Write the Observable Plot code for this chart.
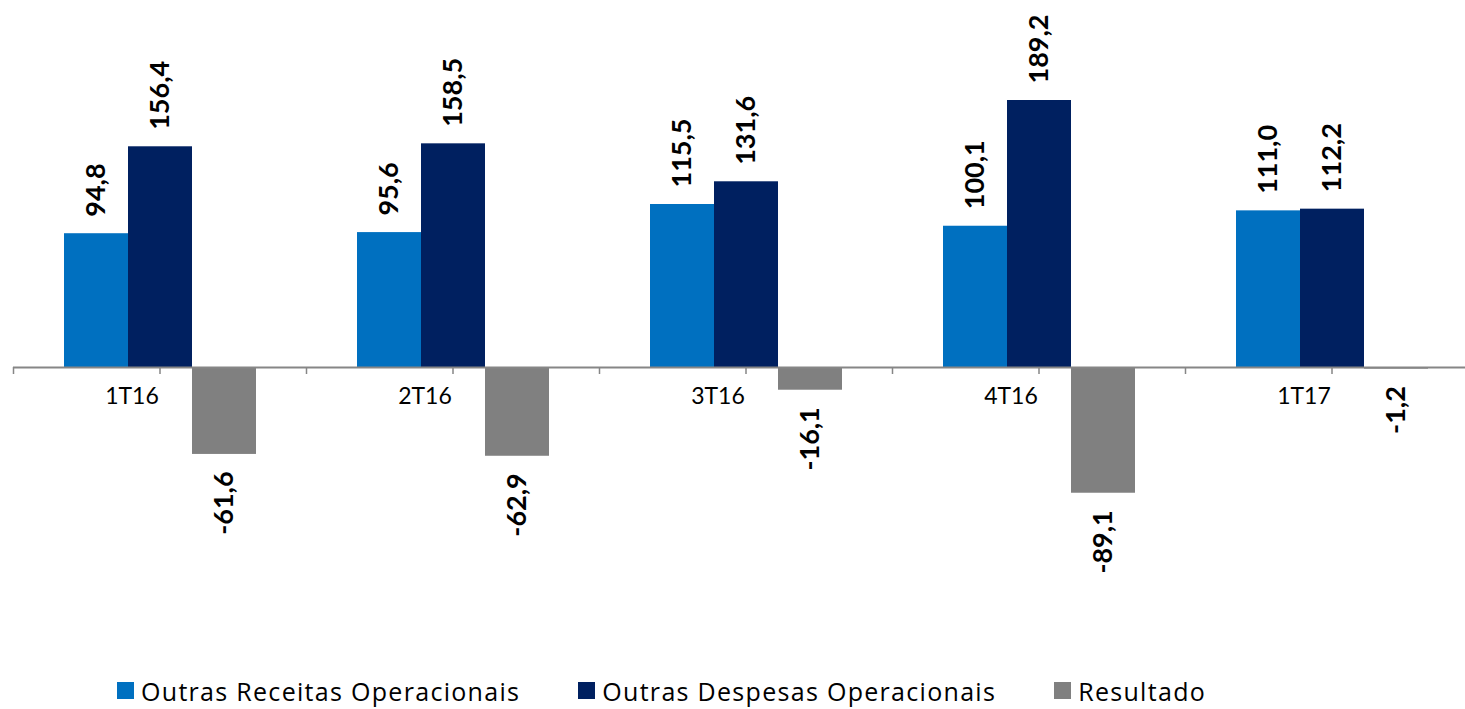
<!DOCTYPE html>
<html><head><meta charset="utf-8">
<script src="https://cdn.jsdelivr.net/npm/d3@7"></script>
<script src="https://cdn.jsdelivr.net/npm/@observablehq/plot@0.6"></script>
<style>
body{margin:0;background:#fff;overflow:hidden;font-family:Lato,sans-serif}
#chart svg{display:block}
#legend{display:flex;align-items:center;padding-left:117px;height:37px;font-size:25px;letter-spacing:1.3px;font-family:"Open Sans",sans-serif;color:#000}
.item{display:flex;align-items:center;margin-right:58px}
.sw{width:17px;height:17px;margin-right:7px}
</style></head><body>
<div id="chart"></div><div id="legend"></div>
<script>
const quarters = ["1T16","2T16","3T16","4T16","1T17"];
const series = ["Outras Receitas Operacionais","Outras Despesas Operacionais","Resultado"];
const receitas = [94.8,95.6,115.5,100.1,111.0];
const despesas = [156.4,158.5,131.6,189.2,112.2];
const resultado = [-61.6,-62.9,-16.1,-89.1,-1.2];
const colors = ["#0070C0","#002060","#808080"];

const data = [];
quarters.forEach((q,i)=>{
  [receitas,despesas,resultado].forEach((arr,j)=>data.push({quarter:q, series:series[j], value:arr[i]}));
});
const fmt = v => v.toFixed(1).replace(".", ",");
const W = 1465, H = 672, mL = 13, mR = -13;
const half = (W - mL - mR)/quarters.length/2;

const chart = Plot.plot({
  width: W, height: H, marginTop: 100, marginBottom: 305, marginLeft: mL, marginRight: mR,
  style: {fontFamily: "Lato, sans-serif", background: "#fff", overflow: "visible"},
  fx: {domain: quarters, padding: 0, axis: null},
  x: {domain: series, paddingInner: 0, paddingOuter: 0.754, axis: null},
  y: {domain: [0, d3.max(data, d => d.value)], axis: null},
  color: {domain: series, range: colors},
  marks: [
    Plot.barY(data, {fx: "quarter", x: "series", y: "value", fill: "series"}),
    Plot.ruleY([0], {stroke: "#868686", strokeWidth: 2}),
    Plot.axisFx({anchor: "bottom", tickSize: 7, tickFormat: () => "", stroke: "#868686", strokeWidth: 1.5, label: null}),
    Plot.axisFx({anchor: "bottom", tickSize: 7, tickFormat: () => "", stroke: "#868686", strokeWidth: 1.5, label: null, dx: -half}),
    Plot.text(quarters, {fx: d => d, text: d => d, frameAnchor: "bottom", dy: 36, dx: -28, fontSize: 23, fill: "#000"}),
    Plot.text(data.filter(d => d.value >= 0), {fx: "quarter", x: "series", y: "value", text: d => fmt(d.value),
      rotate: -90, textAnchor: "start", dy: -17, fontSize: 27, fontWeight: "bold", fill: "#000"}),
    Plot.text(data.filter(d => d.value < 0), {fx: "quarter", x: "series", y: "value", text: d => fmt(d.value),
      rotate: -90, textAnchor: "end", dy: 17, fontSize: 27, fontWeight: "bold", fill: "#000"})
  ]
});
document.getElementById("chart").appendChild(chart);

const legend = document.getElementById("legend");
series.forEach((s, i) => {
  const item = document.createElement("div");
  item.className = "item";
  const sw = document.createElement("span");
  sw.className = "sw";
  sw.style.background = colors[i];
  const t = document.createElement("span");
  t.textContent = s;
  item.appendChild(sw); item.appendChild(t);
  legend.appendChild(item);
});
</script>
</body></html>
